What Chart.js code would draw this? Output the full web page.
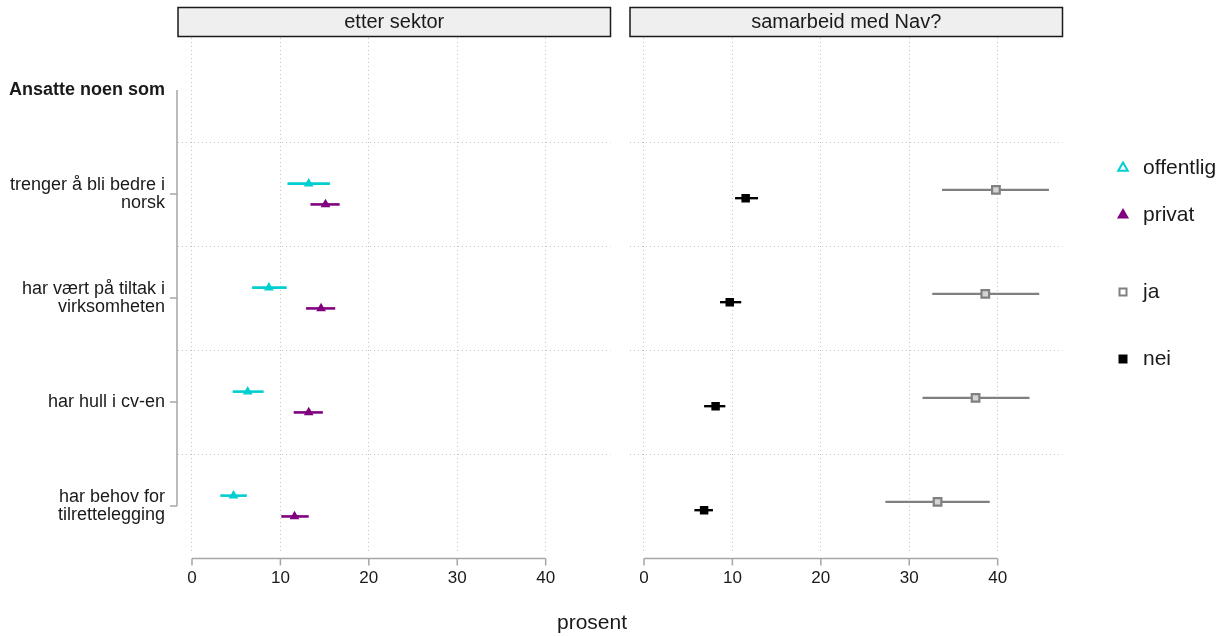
<!DOCTYPE html>
<html lang="no">
<head>
<meta charset="utf-8">
<title>Ansatte noen som</title>
<script src="https://cdn.jsdelivr.net/npm/chart.js@4/dist/chart.umd.min.js"></script>
<style>
  html, body { margin: 0; padding: 0; background: #fff; }
  #wrap { position: relative; width: 1223px; height: 636px; }
  #wrap canvas { position: absolute; left: 0; top: 0; }
</style>
</head>
<body>
<div id="wrap">
  <canvas id="sektor" width="1223" height="636"></canvas>
  <canvas id="nav" width="1223" height="636"></canvas>
</div>
<script>
// kategorier (y) og overskrift
const overskrift = 'Ansatte noen som';
const kategorier = [
    ['trenger å bli bedre i', 'norsk'],
    ['har vært på tiltak i', 'virksomheten'],
    ['har hull i cv-en'],
    ['har behov for', 'tilrettelegging']
];
const xTicks = [0, 10, 20, 30, 40];
const paneler = ['etter sektor', 'samarbeid med Nav?'];

// andel i prosent med konfidensintervall, etter sektor
const offentligAndel = [13.2, 8.7, 6.3, 4.7];
const offentligNedre = [10.8, 6.8, 4.6, 3.2];
const offentligOvre  = [15.6, 10.7, 8.1, 6.2];

const privatAndel = [15.1, 14.6, 13.2, 11.6];
const privatNedre = [13.4, 12.9, 11.5, 10.1];
const privatOvre  = [16.7, 16.2, 14.8, 13.2];

// samarbeid med Nav
const jaAndel = [39.8, 38.6, 37.5, 33.2];
const jaNedre = [33.7, 32.6, 31.5, 27.3];
const jaOvre  = [45.8, 44.7, 43.6, 39.1];

const neiAndel = [11.5, 9.7, 8.1, 6.8];
const neiNedre = [10.3, 8.6, 6.8, 5.7];
const neiOvre  = [12.9, 11.0, 9.2, 7.8];

const FONT = '"Liberation Sans", Arial, Helvetica, sans-serif';
const TEKST = '#1a1a1a';
const CYAN = '#00CED1';
const LILLA = '#800080';
const GRA = '#808080';
const AKSE = '#a6a6a6';
const RUTENETT = '#c4c4c4';

Chart.defaults.font.family = FONT;
Chart.defaults.color = TEKST;

// punkter: header på 0, kategorier på 1..4, forskjøvet litt opp/ned
function punkter(verdier, forskyvning) {
    return verdier.map((v, i) => ({ x: v, y: i + 1 + forskyvning }));
}

// horisontale feilstreker under punktene
const feilstreker = {
    id: 'feilstreker',
    beforeDatasetsDraw(chart) {
        const { ctx, scales: { x, y } } = chart;
        chart.data.datasets.forEach((ds) => {
            ctx.save();
            ctx.strokeStyle = ds.linjeFarge;
            ctx.lineWidth = ds.linjeBredde;
            ds.data.forEach((p, j) => {
                const py = y.getPixelForValue(p.y);
                ctx.beginPath();
                ctx.moveTo(x.getPixelForValue(ds.nedre[j]), py);
                ctx.lineTo(x.getPixelForValue(ds.ovre[j]), py);
                ctx.stroke();
            });
            ctx.restore();
        });
    }
};

// stiplede skillelinjer mellom kategoriene
const skillelinjer = {
    id: 'skillelinjer',
    beforeDatasetsDraw(chart) {
        const { ctx, chartArea: a, scales: { y } } = chart;
        ctx.save();
        ctx.strokeStyle = RUTENETT;
        ctx.lineWidth = 1;
        ctx.setLineDash([1, 3]);
        for (let k = 0; k < kategorier.length; k++) {
            const py = Math.round(y.getPixelForValue(k + 0.5)) + 0.5;
            ctx.beginPath();
            ctx.moveTo(a.left, py);
            ctx.lineTo(a.right, py);
            ctx.stroke();
        }
        ctx.restore();
    }
};

// panelstripe over plottet + x-akselinje fra 0 til 40
const panelramme = {
    id: 'panelramme',
    afterDraw(chart, args, opts) {
        const { ctx, chartArea: a, scales: { x, y } } = chart;
        ctx.save();
        ctx.fillStyle = '#efefef';
        ctx.strokeStyle = '#1a1a1a';
        ctx.lineWidth = 1.5;
        ctx.fillRect(a.left, 7.5, a.right - a.left, 29);
        ctx.strokeRect(a.left, 7.5, a.right - a.left, 29);
        ctx.fillStyle = TEKST;
        ctx.font = '20px ' + FONT;
        ctx.textAlign = 'center';
        ctx.textBaseline = 'middle';
        ctx.fillText(opts.tittel, (a.left + a.right) / 2, 22.5);

        ctx.strokeStyle = AKSE;
        ctx.lineWidth = 1.5;
        const ay = a.bottom + 6.5;
        ctx.beginPath();
        ctx.moveTo(x.getPixelForValue(xTicks[0]), ay);
        ctx.lineTo(x.getPixelForValue(xTicks[xTicks.length - 1]), ay);
        xTicks.forEach(t => {
            const px = x.getPixelForValue(t);
            ctx.moveTo(px, ay);
            ctx.lineTo(px, ay + 7);
        });
        ctx.stroke();

        if (opts.yAkse) {
            const ax = a.left - 1;
            ctx.beginPath();
            ctx.moveTo(ax, y.getPixelForValue(0));
            ctx.lineTo(ax, y.getPixelForValue(kategorier.length));
            for (let k = 1; k <= kategorier.length; k++) {
                const py = y.getPixelForValue(k);
                ctx.moveTo(ax, py);
                ctx.lineTo(ax - 7, py);
            }
            ctx.stroke();
        }
        ctx.restore();
    }
};

// forklaring til høyre og felles x-aksetittel
const forklaring = {
    id: 'forklaring',
    afterDraw(chart) {
        const { ctx } = chart;
        const mx = 1123, tx = 1143;
        const rader = [
            { tekst: 'offentlig', y: 168, tegn: 'trekant', farge: CYAN, fylt: false },
            { tekst: 'privat', y: 215, tegn: 'trekant', farge: LILLA, fylt: true },
            { tekst: 'ja', y: 292, tegn: 'firkant', farge: GRA, fylt: false },
            { tekst: 'nei', y: 359, tegn: 'firkant', farge: '#000', fylt: true }
        ];
        ctx.save();
        rader.forEach(r => {
            ctx.beginPath();
            if (r.tegn === 'trekant') {
                const s = r.fylt ? 7 : 5.5;
                ctx.moveTo(mx, r.y - s);
                ctx.lineTo(mx + s * 0.866, r.y + s * 0.5);
                ctx.lineTo(mx - s * 0.866, r.y + s * 0.5);
                ctx.closePath();
            } else {
                const h = r.fylt ? 4.5 : 3.5;
                ctx.rect(mx - h, r.y - h, 2 * h, 2 * h);
            }
            if (r.fylt) {
                ctx.fillStyle = r.farge;
                ctx.fill();
            } else {
                ctx.strokeStyle = r.farge;
                ctx.lineWidth = 2;
                ctx.stroke();
            }
            ctx.fillStyle = TEKST;
            ctx.font = '21px ' + FONT;
            ctx.textAlign = 'left';
            ctx.textBaseline = 'middle';
            ctx.fillText(r.tekst, tx, r.y);
        });
        ctx.font = '21px ' + FONT;
        ctx.textAlign = 'center';
        ctx.fillText('prosent', 592, 623);
        ctx.restore();
    }
};

function xSkala() {
    return {
        type: 'linear',
        min: -1.58,
        max: 47.33,
        afterBuildTicks: axis => { axis.ticks = xTicks.map(v => ({ value: v })); },
        afterFit: scale => { scale.height = 84; },
        grid: { color: RUTENETT, lineWidth: 1, drawTicks: false },
        border: { display: false, dash: [1, 3] },
        ticks: { padding: 16, font: { size: 17 }, color: TEKST, maxRotation: 0 }
    };
}

function ySkala(vis) {
    return {
        type: 'linear',
        reverse: true,
        min: -0.5,
        max: 4.442,
        display: vis,
        afterBuildTicks: axis => {
            axis.ticks = [0, 1, 2, 3, 4].map(v => ({ value: v }));
        },
        afterFit: scale => { scale.width = vis ? 178 : 0; },
        grid: { display: false, drawTicks: false },
        border: { display: false },
        ticks: {
            padding: 13,
            color: TEKST,
            callback: v => (v === 0 ? overskrift : kategorier[v - 1]),
            font: c => (c.tick && c.tick.value === 0)
                ? { size: 18, weight: 'bold', lineHeight: 1 }
                : { size: 18, lineHeight: 1.02 }
        }
    };
}

function serie(navn, andel, nedre, ovre, forskyvning, stil) {
    return Object.assign({
        label: navn,
        data: punkter(andel, forskyvning),
        nedre: nedre,
        ovre: ovre,
        showLine: false
    }, stil);
}

// venstre panel: etter sektor
new Chart(document.getElementById('sektor'), {
    type: 'scatter',
    data: {
        datasets: [
            serie('offentlig', offentligAndel, offentligNedre, offentligOvre, -0.1, {
                pointStyle: 'triangle', pointRadius: 5.6, backgroundColor: CYAN,
                borderColor: CYAN, borderWidth: 0, linjeFarge: CYAN, linjeBredde: 2.6
            }),
            serie('privat', privatAndel, privatNedre, privatOvre, 0.1, {
                pointStyle: 'triangle', pointRadius: 5.6, backgroundColor: LILLA,
                borderColor: LILLA, borderWidth: 0, linjeFarge: LILLA, linjeBredde: 2.6
            })
        ]
    },
    options: {
        responsive: false,
        animation: false,
        layout: { padding: { left: 0, right: 612.5, top: 38, bottom: 0 } },
        scales: { x: xSkala(), y: ySkala(true) },
        plugins: {
            legend: { display: false },
            tooltip: { enabled: false },
            panelramme: { tittel: paneler[0], yAkse: true }
        }
    },
    plugins: [skillelinjer, feilstreker, panelramme]
});

// høyre panel: samarbeid med Nav?
new Chart(document.getElementById('nav'), {
    type: 'scatter',
    data: {
        datasets: [
            serie('ja', jaAndel, jaNedre, jaOvre, -0.04, {
                pointStyle: 'rect', pointRadius: 5.4, backgroundColor: '#d4d4d4',
                borderColor: GRA, borderWidth: 2.2, linjeFarge: GRA, linjeBredde: 2.2
            }),
            serie('nei', neiAndel, neiNedre, neiOvre, 0.04, {
                pointStyle: 'rect', pointRadius: 6, backgroundColor: '#000',
                borderColor: '#000', borderWidth: 0, linjeFarge: '#000', linjeBredde: 2.4
            })
        ]
    },
    options: {
        responsive: false,
        animation: false,
        layout: { padding: { left: 630, right: 160.5, top: 38, bottom: 0 } },
        scales: { x: xSkala(), y: ySkala(false) },
        plugins: {
            legend: { display: false },
            tooltip: { enabled: false },
            panelramme: { tittel: paneler[1], yAkse: false }
        }
    },
    plugins: [skillelinjer, feilstreker, panelramme, forklaring]
});
</script>
</body>
</html>
